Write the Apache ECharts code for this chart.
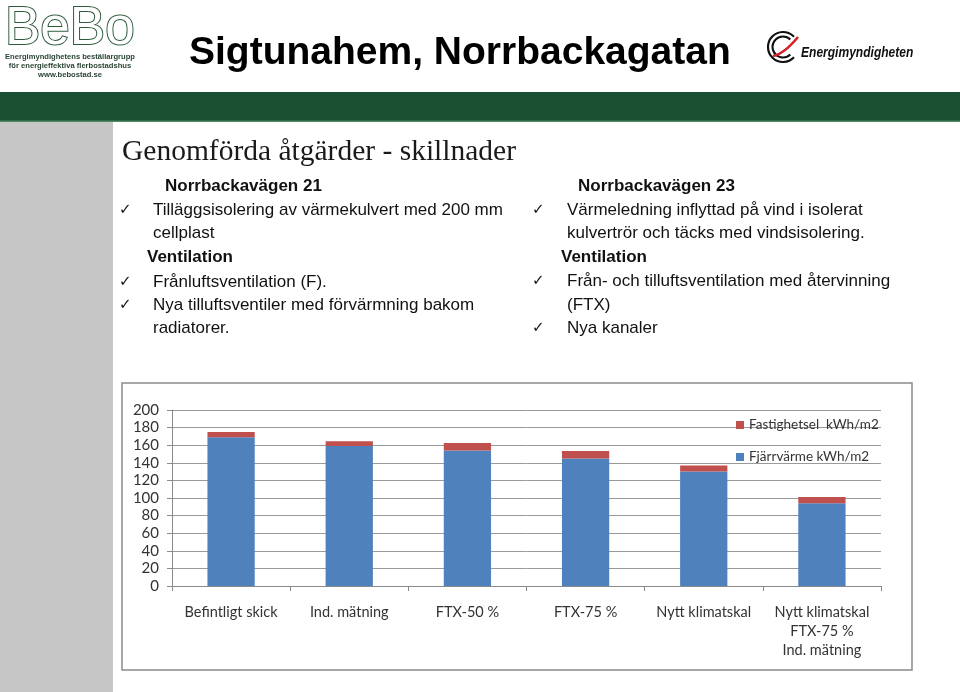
<!DOCTYPE html>
<html>
<head>
<meta charset="utf-8">
<script src="https://cdn.jsdelivr.net/npm/echarts@6/dist/echarts.min.js"></script>
<style>
html,body{margin:0;padding:0;background:#fff;}
#c{width:960px;height:692px;}
</style>
</head>
<body>
<div id="c"></div>
<script>
const categories = ['Befintligt skick', 'Ind. mätning', 'FTX-50 %', 'FTX-75 %', 'Nytt klimatskal', 'Nytt klimatskal\nFTX-75 %\nInd. mätning'];
const fjarrvarme = [169, 159, 154, 145, 130, 94];
const fastighetsel = [6, 5.5, 8.5, 8.5, 7, 7];
const seriesNames = ['Fjärrvärme kWh/m2', 'Fastighetsel  kWh/m2'];
const yTicks = {min: 0, max: 200, interval: 20};

const leftLines = [
  {t: 'Norrbackavägen 21', x: 165, y: 186, b: true},
  {t: 'Tilläggsisolering av värmekulvert med 200 mm', x: 153, y: 210, c: true},
  {t: 'cellplast', x: 153, y: 233},
  {t: 'Ventilation', x: 147, y: 257, b: true},
  {t: 'Frånluftsventilation (F).', x: 153, y: 282, c: true},
  {t: 'Nya tilluftsventiler med förvärmning bakom', x: 153, y: 305, c: true},
  {t: 'radiatorer.', x: 153, y: 328}
];
const rightLines = [
  {t: 'Norrbackavägen 23', x: 578, y: 186, b: true},
  {t: 'Värmeledning inflyttad på vind i isolerat', x: 567, y: 210, c: true},
  {t: 'kulvertrör och täcks med vindsisolering.', x: 567, y: 233},
  {t: 'Ventilation', x: 561, y: 257, b: true},
  {t: 'Från- och tilluftsventilation med återvinning', x: 567, y: 281, c: true},
  {t: '(FTX)', x: 567, y: 305},
  {t: 'Nya kanaler', x: 567, y: 328, c: true}
];

const graphics = [];
// background strips
graphics.push({type: 'rect', shape: {x: 0, y: 92, width: 960, height: 30}, style: {fill: '#1b4f31'}, z: 0});
graphics.push({type: 'rect', shape: {x: 0, y: 120.5, width: 960, height: 1.5}, style: {fill: '#4f8a62'}, z: 0});
graphics.push({type: 'rect', shape: {x: 0, y: 122, width: 113, height: 570}, style: {fill: '#c6c6c6'}, z: 0});
// chart frame
graphics.push({type: 'rect', shape: {x: 122, y: 383, width: 790, height: 287}, style: {fill: '#fff', stroke: '#8a8a8a', lineWidth: 1.5}, z: -1});

// BeBo logo
graphics.push({type: 'text', style: {text: 'BeBo', x: 5, y: 29, font: '400 53px "Liberation Sans", Arial, sans-serif', fill: '#fff', stroke: '#2c5a3c', lineWidth: 2, verticalAlign: 'middle'}});
graphics.push({type: 'text', style: {text: 'Energimyndighetens beställargrupp', x: 70, y: 57, font: 'bold 7.6px "Liberation Sans", Arial, sans-serif', fill: '#2b4534', align: 'center', verticalAlign: 'middle'}});
graphics.push({type: 'text', style: {text: 'för energieffektiva flerbostadshus', x: 70, y: 66, font: 'bold 7.6px "Liberation Sans", Arial, sans-serif', fill: '#2b4534', align: 'center', verticalAlign: 'middle'}});
graphics.push({type: 'text', style: {text: 'www.bebostad.se', x: 70, y: 75, font: 'bold 7.6px "Liberation Sans", Arial, sans-serif', fill: '#2b4534', align: 'center', verticalAlign: 'middle'}});

// Title
graphics.push({type: 'text', style: {text: 'Sigtunahem, Norrbackagatan', x: 189, y: 53, font: 'bold 39px "Liberation Sans", Arial, sans-serif', fill: '#000', verticalAlign: 'middle'}});

// Energimyndigheten logo
graphics.push({type: 'arc', shape: {cx: 783, cy: 47, r: 15, startAngle: 0.75, endAngle: 2 * Math.PI - 0.75, clockwise: true}, style: {stroke: '#111', lineWidth: 2.2, fill: null}});
graphics.push({type: 'arc', shape: {cx: 783, cy: 47, r: 10.5, startAngle: 0.8, endAngle: 2 * Math.PI - 0.8, clockwise: true}, style: {stroke: '#111', lineWidth: 2, fill: null}});
graphics.push({type: 'bezierCurve', shape: {x1: 773, y1: 56, x2: 798, y2: 37, cpx1: 784, cpy1: 54}, style: {stroke: '#d51f26', lineWidth: 2.5, fill: null}});
graphics.push({type: 'text', x: 801, y: 53, scaleX: 0.83, style: {text: 'Energimyndigheten', x: 0, y: 0, font: 'italic bold 14.5px "Liberation Sans", Arial, sans-serif', fill: '#111', verticalAlign: 'middle'}});

// Subtitle
graphics.push({type: 'text', style: {text: 'Genomförda åtgärder - skillnader', x: 122, y: 152, font: '29.5px "Liberation Serif", "Times New Roman", serif', fill: '#1a1a1a', verticalAlign: 'middle'}});

function addLines(lines, checkX) {
  lines.forEach(function (l) {
    graphics.push({type: 'text', style: {text: l.t, x: l.x, y: l.y, font: (l.b ? 'bold ' : '') + '17px "Liberation Sans", Arial, sans-serif', fill: '#111', verticalAlign: 'middle'}});
    if (l.c) {
      graphics.push({type: 'text', style: {text: '✓', x: checkX, y: l.y, font: '15px "DejaVu Sans", sans-serif', fill: '#111', verticalAlign: 'middle'}});
    }
  });
}
addLines(leftLines, 119);
addLines(rightLines, 532);

const chart = echarts.init(document.getElementById('c'), null, {renderer: 'canvas'});
chart.setOption({
  animation: false,
  backgroundColor: '#fff',
  graphic: graphics,
  grid: {left: 172, right: 79, top: 410, bottom: 106, containLabel: false},
  legend: {
    orient: 'vertical', left: 731, top: 413, itemGap: 18, itemWidth: 8, itemHeight: 8,
    icon: 'rect',
    data: [seriesNames[1], seriesNames[0]],
    textStyle: {fontFamily: 'Lato, "Open Sans", sans-serif', fontSize: 13.5, color: '#333'}
  },
  xAxis: {
    type: 'category', data: categories,
    axisLine: {lineStyle: {color: '#8a8a8a', width: 1}},
    axisTick: {show: true, length: 5, inside: false, lineStyle: {color: '#8a8a8a'}},
    axisLabel: {fontFamily: 'Lato, "Open Sans", sans-serif', fontSize: 14.5, color: '#333', margin: 17, lineHeight: 19, interval: 0}
  },
  yAxis: {
    type: 'value', min: yTicks.min, max: yTicks.max, interval: yTicks.interval,
    axisLine: {show: true, lineStyle: {color: '#8a8a8a', width: 1}},
    axisTick: {show: true, length: 5, lineStyle: {color: '#8a8a8a'}},
    axisLabel: {fontFamily: 'Lato, "Open Sans", sans-serif', fontSize: 15, color: '#333', margin: 13},
    splitLine: {lineStyle: {color: '#9a9a9a', width: 1}}
  },
  series: [
    {name: seriesNames[0], type: 'bar', stack: 's', data: fjarrvarme, barWidth: '40%', itemStyle: {color: '#4f81bd'}},
    {name: seriesNames[1], type: 'bar', stack: 's', data: fastighetsel, barWidth: '40%', itemStyle: {color: '#c0504d'}}
  ]
});
</script>
</body>
</html>
